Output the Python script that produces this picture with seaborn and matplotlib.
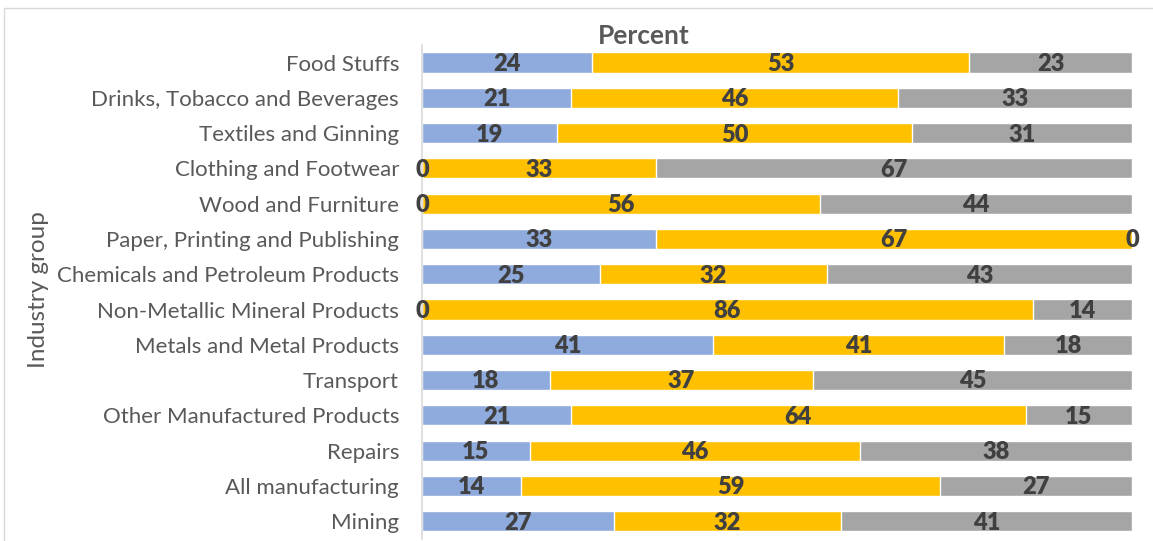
import numpy as np
import pandas as pd
import matplotlib
matplotlib.use("Agg")
import matplotlib.pyplot as plt
import seaborn as sns
from matplotlib.patches import Rectangle

industries = [
    "Food Stuffs", "Drinks, Tobacco and Beverages", "Textiles and Ginning",
    "Clothing and Footwear", "Wood and Furniture", "Paper, Printing and Publishing",
    "Chemicals and Petroleum Products", "Non-Metallic Mineral Products",
    "Metals and Metal Products", "Transport", "Other Manufactured Products",
    "Repairs", "All manufacturing", "Mining",
]
blue_vals = [24, 21, 19, 0, 0, 33, 25, 0, 41, 18, 21, 15, 14, 27]
yellow_vals = [53, 46, 50, 33, 56, 67, 32, 86, 41, 37, 64, 46, 59, 32]
gray_vals = [23, 33, 31, 67, 44, 0, 43, 14, 18, 45, 15, 38, 27, 41]

colors = ["#8FAADC", "#FFC000", "#A5A5A5"]

sns.set_style("white")
plt.rcParams["font.family"] = ["Lato", "DejaVu Sans"]

df = pd.DataFrame({"group": industries, "a": blue_vals, "b": yellow_vals, "c": gray_vals})
tot = df[["a", "b", "c"]].sum(axis=1)
# 100% stacked, like the Excel original
df["p1"] = df["a"] / tot * 100
df["p2"] = (df["a"] + df["b"]) / tot * 100
df["p3"] = (df["a"] + df["b"] + df["c"]) / tot * 100

fig = plt.figure(figsize=(11.53, 5.41), dpi=100)
ax = fig.add_axes([0.366, 0.004, 0.616, 0.913])

# stacked by drawing cumulative totals back to front
sns.barplot(data=df, x="p3", y="group", color=colors[2], width=0.57, ax=ax, saturation=1)
sns.barplot(data=df, x="p2", y="group", color=colors[1], width=0.57, ax=ax, saturation=1)
sns.barplot(data=df, x="p1", y="group", color=colors[0], width=0.57, ax=ax, saturation=1)

for i, row in df.iterrows():
    starts = [0, row["p1"], row["p2"]]
    ends = [row["p1"], row["p2"], row["p3"]]
    for s, e, v in zip(starts, ends, [row["a"], row["b"], row["c"]]):
        ax.text((s + e) / 2, i + 0.04, f"{v}", ha="center", va="center",
                fontsize=17, fontweight="heavy", color="#404040")

ax.set_xlim(0, 100)
ax.set_xlabel("")
ax.set_ylabel("")
ax.set_xticks([])
ax.tick_params(axis="y", length=0, labelsize=16, labelcolor="#595959", pad=16.5)
for side in ["top", "right", "bottom"]:
    ax.spines[side].set_visible(False)
ax.spines["left"].set_color("#D9D9D9")
ax.spines["left"].set_linewidth(1.2)

fig.text(0.5586, 0.933, "Percent", ha="center", va="center", fontsize=19,
         fontweight="bold", color="#595959")
fig.text(0.033, 0.465, "Industry group", rotation=90, ha="center", va="center",
         fontsize=17.5, color="#595959")

fig.patches.append(Rectangle((4 / 1153, -0.1), 1.2, 1 - 8 / 541 + 0.1,
                             transform=fig.transFigure, fill=False,
                             edgecolor="#D9D9D9", linewidth=1))

fig.savefig("out.png", dpi=100)
